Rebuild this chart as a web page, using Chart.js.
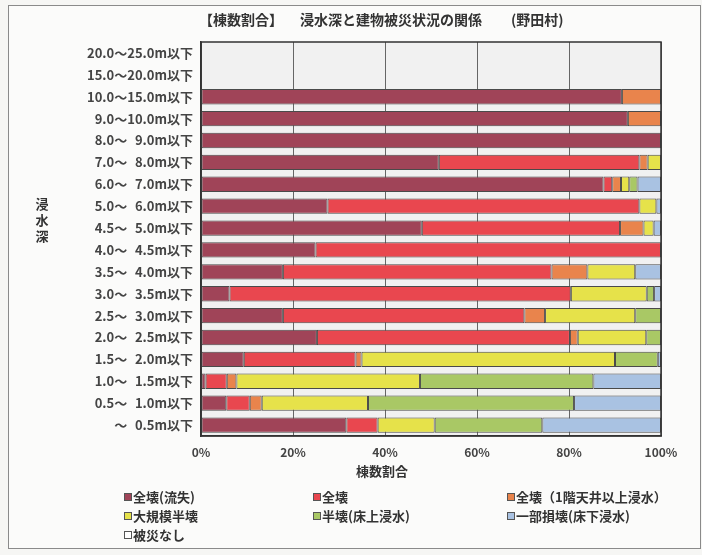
<!DOCTYPE html>
<html lang="ja">
<head>
<meta charset="utf-8">
<script src="https://cdn.jsdelivr.net/npm/chart.js@4.4.1/dist/chart.umd.min.js"></script>
<style>
  html, body { margin: 0; padding: 0; background: #f6f6f4; }
  #wrap { width: 702px; height: 555px; }
</style>
</head>
<body>
<div id="wrap"><canvas id="chartNoda" width="702" height="555"></canvas></div>
<script>
// 浸水深の区分（上から順）
const depthLabels = [
  "20.0～25.0m以下", "15.0～20.0m以下", "10.0～15.0m以下", "9.0～10.0m以下",
  "8.0～\u20079.0m以下", "7.0～\u20078.0m以下", "6.0～\u20077.0m以下", "5.0～\u20076.0m以下",
  "4.5～\u20075.0m以下", "4.0～\u20074.5m以下", "3.5～\u20074.0m以下", "3.0～\u20073.5m以下",
  "2.5～\u20073.0m以下", "2.0～\u20072.5m以下", "1.5～\u20072.0m以下", "1.0～\u20071.5m以下",
  "0.5～\u20071.0m以下", "～\u20070.5m以下"
];

const damageLabels = ["全壊(流失)", "全壊", "全壊（1階天井以上浸水）", "大規模半壊", "半壊(床上浸水)", "一部損壊(床下浸水)", "被災なし"];
const damageColors = ["#A04458", "#E9474F", "#E9844C", "#E6E24A", "#A9C865", "#A9C2E2", "#FFFFFF"];

// 棟数割合（%）
const washedAway = [null, null, 91.5, 92.8, 100, 51.7, 87.5, 27.5, 48.0, 24.9, 17.8, 6.2, 17.8, 25.2, 9.3, 1.0, 5.5, 31.6];
const totalLoss = [null, null, null, null, null, 43.6, 1.9, 67.8, 43.1, 75.1, 58.4, 74.2, 52.5, 55.0, 24.3, 4.6, 5.1, 6.8];
const totalCeiling = [null, null, 8.5, 7.2, null, 1.8, 1.9, null, 5.1, null, 7.8, null, 4.5, 1.7, 1.3, 2.1, 2.6, null];
const largeHalf = [null, null, null, null, null, 2.9, 1.8, 3.7, 2.2, null, 10.4, 16.5, 19.6, 14.9, 55.1, 39.9, 23.1, 12.4];
const halfAbove = [null, null, null, null, null, null, 1.8, null, null, null, null, 1.6, 5.6, 3.2, 9.3, 37.7, 44.8, 23.4];
const partBelow = [null, null, null, null, null, null, 5.1, 1.0, 1.6, null, 5.6, 1.5, null, null, 0.7, 14.7, 18.9, 25.8];
const noDamage = [null, null, null, null, null, null, null, null, null, null, null, null, null, null, null, null, null, null];

const xTicks = [0, 20, 40, 60, 80, 100];

const seriesData = [washedAway, totalLoss, totalCeiling, largeHalf, halfAbove, partBelow, noDamage];

const datasets = seriesData.map((d, i) => ({
  label: damageLabels[i],
  data: d,
  backgroundColor: damageColors[i],
  borderColor: "#4a4a4a",
  borderWidth: 1,
  borderSkipped: false,
  barPercentage: 0.7,
  categoryPercentage: 1.0,
}));

const fontFamily = "'Noto Sans CJK JP', 'Noto Sans', sans-serif";

// タイトル・軸タイトル・凡例・枠を描くプラグイン
const decorPlugin = {
  id: "decor",
  beforeDraw(chart) {
    const { ctx, chartArea } = chart;
    ctx.save();
    ctx.fillStyle = "#f6f6f4";
    ctx.fillRect(0, 0, chart.width, chart.height);
    ctx.fillStyle = "#fbfbfa";
    ctx.fillRect(8, 5, 692, 543);
    ctx.strokeStyle = "#8a8a8a";
    ctx.lineWidth = 1;
    ctx.strokeRect(8.5, 5.5, 692, 543);
    ctx.fillStyle = "#f1f1f1";
    ctx.fillRect(chartArea.left, chartArea.top, chartArea.right - chartArea.left, chartArea.bottom - chartArea.top);
    ctx.restore();
  },
  afterDraw(chart) {
    const { ctx, chartArea } = chart;
    ctx.save();
    // 枠
    ctx.strokeStyle = "#333";
    ctx.lineWidth = 1.5;
    ctx.strokeRect(chartArea.left, chartArea.top, chartArea.right - chartArea.left, chartArea.bottom - chartArea.top);

    // タイトル
    ctx.fillStyle = "#333";
    ctx.textBaseline = "middle";
    ctx.font = "bold 14px " + fontFamily;
    ctx.fillText("【棟数割合】", 199, 20);
    ctx.fillText("浸水深と建物被災状況の関係", 300, 20);
    ctx.fillText("(野田村)", 511, 20);

    // 縦軸タイトル
    ctx.font = "bold 13px " + fontFamily;
    ctx.textAlign = "center";
    ["浸", "水", "深"].forEach((c, i) => ctx.fillText(c, 42, 204 + i * 16));

    // 横軸タイトル
    ctx.fillText("棟数割合", 382, 471);

    // 凡例
    const colX = [124, 313, 507];
    const rowY = [497, 516, 535];
    ctx.textAlign = "left";
    ctx.font = "bold 13px " + fontFamily;
    chart.data.datasets.forEach((ds, i) => {
      const x = colX[i % 3];
      const y = rowY[Math.floor(i / 3)];
      ctx.fillStyle = ds.backgroundColor;
      ctx.fillRect(x, y - 4, 7, 7);
      ctx.strokeStyle = "#555";
      ctx.lineWidth = 1;
      ctx.strokeRect(x + 0.5, y - 3.5, 7, 7);
      ctx.fillStyle = "#333";
      ctx.fillText(ds.label, x + 9, y);
    });
    ctx.restore();
  },
};

const config = {
  type: "bar",
  data: {
    labels: depthLabels,
    datasets,
  },
  options: {
    indexAxis: "y",
    responsive: false,
    animation: false,
    layout: {
      padding: { left: 0, top: 42, right: 41, bottom: 0 },
    },
    plugins: {
      legend: { display: false },
      title: { display: false },
      tooltip: { enabled: false },
    },
    scales: {
      x: {
        stacked: true,
        min: 0,
        max: 100,
        afterBuildTicks: (axis) => (axis.ticks = xTicks.map((v) => ({ value: v }))),
        ticks: {
          callback: (v) => v + "%",
          padding: 9,
          color: "#444",
          font: { family: fontFamily, size: 12, weight: "bold" },
        },
        grid: { color: "#666", drawTicks: false, lineWidth: 1 },
        border: { display: true, color: "#333", width: 1.5 },
        afterFit: (scale) => { scale.height = 119; },
      },
      y: {
        stacked: true,
        ticks: {
          padding: 8,
          color: "#444",
          font: { family: fontFamily, size: 13, weight: "bold" },
        },
        grid: { display: false, drawTicks: false },
        border: { display: true, color: "#333", width: 1.5 },
        afterFit: (scale) => { scale.width = 201; },
      },
    },
  },
  plugins: [decorPlugin],
};

const canvas = document.getElementById("chartNoda");
const myChart = new Chart(canvas, config);
</script>
</body>
</html>
